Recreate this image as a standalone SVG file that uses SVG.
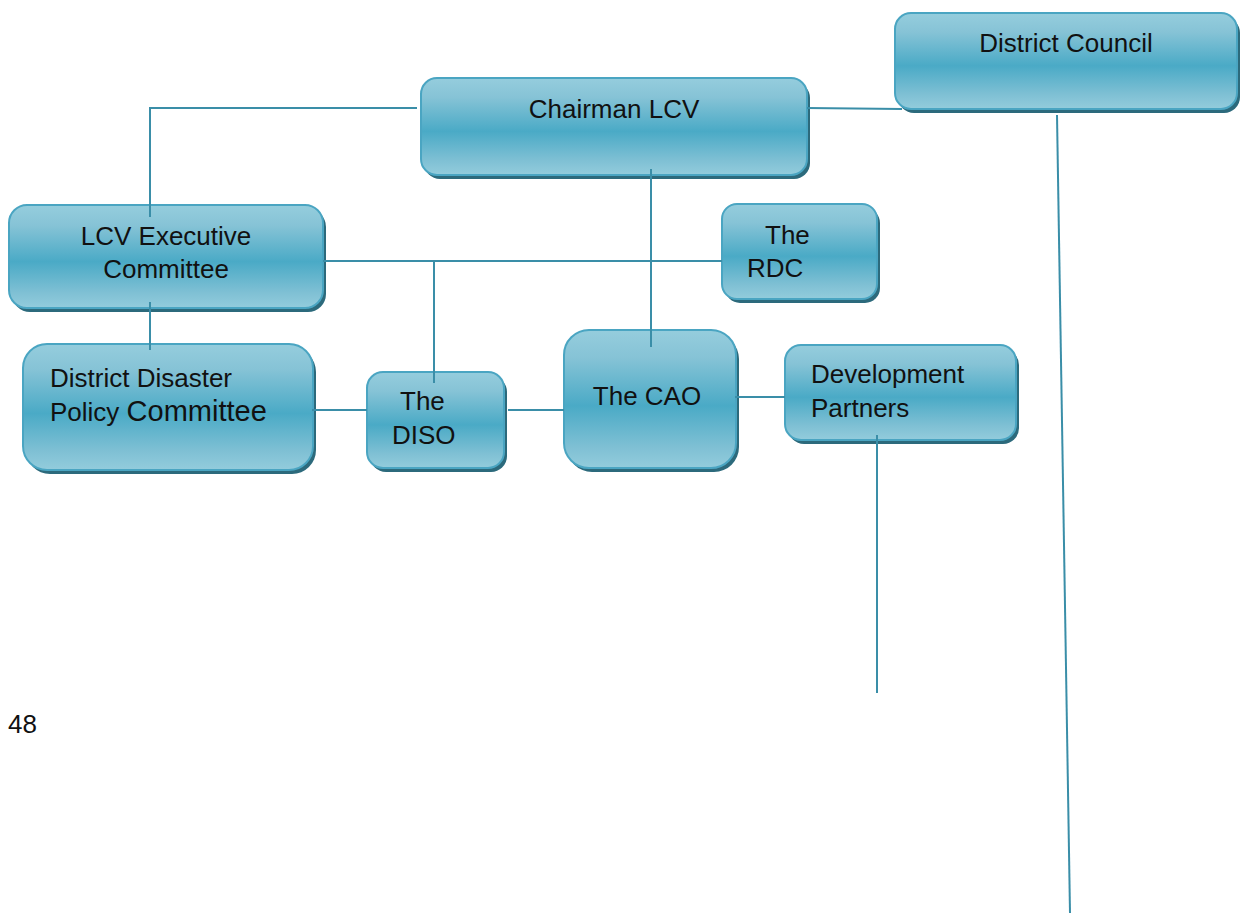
<svg xmlns="http://www.w3.org/2000/svg" width="1241" height="915" viewBox="0 0 1241 915">
<defs>
<linearGradient id="g" x1="0" y1="0" x2="0" y2="1">
<stop offset="0" stop-color="#95cddd"/>
<stop offset="0.2" stop-color="#86c3d6"/>
<stop offset="0.55" stop-color="#4aaac6"/>
<stop offset="0.85" stop-color="#7fc0d4"/>
<stop offset="1" stop-color="#93ccdc"/>
</linearGradient>
</defs>
<style>
.sh{fill:#2c6a7c}
.bx{fill:url(#g);stroke:#4aa5c2;stroke-width:2}
.t{font-family:"Liberation Sans",Arial,sans-serif;font-size:26px;fill:#111}
.ln{stroke:#3a8ea8;stroke-width:2;fill:none}
</style>
<rect width="1241" height="915" fill="#fff"/>
<g id="n-chairman">
<rect class="sh" x="424" y="82" width="386" height="97" rx="16"/>
<rect class="bx" x="421" y="78" width="386" height="97" rx="16"/>
<text class="t" x="614" y="118" text-anchor="middle">Chairman LCV</text>
</g>
<g id="n-council">
<rect class="sh" x="898" y="17" width="342" height="96" rx="16"/>
<rect class="bx" x="895" y="13" width="342" height="96" rx="16"/>
<text class="t" x="1066" y="52" text-anchor="middle">District Council</text>
</g>
<g id="n-exec">
<rect class="sh" x="12" y="209" width="314" height="103" rx="18"/>
<rect class="bx" x="9" y="205" width="314" height="103" rx="18"/>
<text class="t" x="166" y="245" text-anchor="middle">LCV Executive</text>
<text class="t" x="166" y="278" text-anchor="middle">Committee</text>
</g>
<g id="n-rdc">
<rect class="sh" x="725" y="208" width="155" height="95" rx="15"/>
<rect class="bx" x="722" y="204" width="155" height="95" rx="15"/>
<text class="t" x="765" y="244">The</text>
<text class="t" x="747" y="277">RDC</text>
</g>
<g id="n-ddpc">
<rect class="sh" x="26" y="348" width="290" height="126" rx="24"/>
<rect class="bx" x="23" y="344" width="290" height="126" rx="24"/>
<text class="t" x="50" y="387">District Disaster</text>
<text class="t" x="50" y="421">Policy <tspan font-size="29">Committee</tspan></text>
</g>
<g id="n-diso">
<rect class="sh" x="370" y="376" width="137" height="96" rx="16"/>
<rect class="bx" x="367" y="372" width="137" height="96" rx="16"/>
<text class="t" x="400" y="410">The</text>
<text class="t" x="392" y="444">DISO</text>
</g>
<g id="n-cao">
<rect class="sh" x="567" y="334" width="172" height="138" rx="25"/>
<rect class="bx" x="564" y="330" width="172" height="138" rx="25"/>
<text class="t" x="647" y="405" text-anchor="middle">The CAO</text>
</g>
<g id="n-dev">
<rect class="sh" x="788" y="349" width="231" height="95" rx="16"/>
<rect class="bx" x="785" y="345" width="231" height="95" rx="16"/>
<text class="t" x="811" y="383">Development</text>
<text class="t" x="811" y="417">Partners</text>
</g>
<g id="connectors">
<polyline class="ln" points="417,108 150,108 150,217"/>
<line class="ln" x1="807" y1="108" x2="902" y2="109"/>
<line class="ln" x1="651" y1="169" x2="651" y2="347"/>
<line class="ln" x1="323" y1="261" x2="722" y2="261"/>
<line class="ln" x1="434" y1="261" x2="434" y2="383"/>
<line class="ln" x1="150" y1="302" x2="150" y2="350"/>
<line class="ln" x1="312" y1="410" x2="367" y2="410"/>
<line class="ln" x1="508" y1="410" x2="564" y2="410"/>
<line class="ln" x1="735" y1="397" x2="785" y2="397"/>
<line class="ln" x1="877" y1="435" x2="877" y2="693"/>
<line class="ln" x1="1057" y1="115" x2="1070" y2="913"/>
</g>
<text class="t" x="8" y="733">48</text>
</svg>
